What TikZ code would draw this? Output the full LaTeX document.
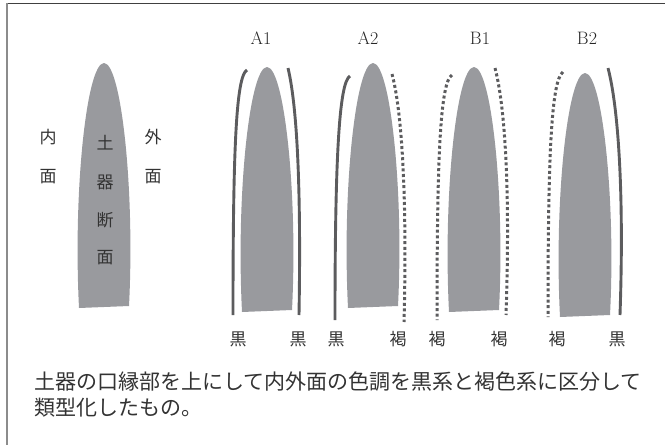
\documentclass[tikz,border=0pt]{standalone}
\usepackage{fontspec}
\newfontfamily\jpfont{Noto Sans CJK JP}
\definecolor{sherdgray}{RGB}{153,154,158}
\definecolor{slipdark}{RGB}{92,92,94}

% one cut-away rim sherd: centre x, tip y, base y
\newcommand{\sherdcut}[3]{%
  \fill[sherd] (#1-25,#3+1) .. controls (#1-31,#2+125) and (#1-17,#2) .. (#1,#2)
    .. controls (#1+17,#2) and (#1+31,#2+125) .. (#1+25,#3-1) -- cycle;}

\begin{document}
\begin{tikzpicture}[x=1pt,y=-1pt,
    sherd/.style={fill=sherdgray},
    kuro/.style={draw=slipdark, line width=2.9pt},
    kasshoku/.style={draw=slipdark, line width=3pt, dash pattern=on 3pt off 2.6pt},
    lbl/.style={font=\jpfont\fontsize{17}{17}\selectfont, text=black!80, inner sep=0pt},
    ttl/.style={font=\fontsize{18}{18}\selectfont, text=black!85, inner sep=0pt}]

  \useasboundingbox (0,0) rectangle (665,445);

  % frame
  \draw[black!75, line width=1.6pt] (6,3.5) -- (665,3.5);
  \draw[black!45, line width=1.6pt] (7,3) -- (7,445);

  % key sherd
  \sherdcut{104}{63}{307}
  \node[lbl] (in1) at (48,137) {内};
  \node[lbl] (in2) at (48,177) {面};
  \node[lbl] (out1) at (153,137) {外};
  \node[lbl] (out2) at (153,177) {面};
  \node[lbl] (s1) at (105,143) {土};
  \node[lbl] (s2) at (105,182) {器};
  \node[lbl] (s3) at (105,220) {断};
  \node[lbl] (s4) at (105,258) {面};

  % types
  \node[ttl] (A1) at (261,38) {A1};
  \node[ttl] (A2) at (368,38) {A2};
  \node[ttl] (B1) at (480,38) {B1};
  \node[ttl] (B2) at (587,38) {B2};

  \sherdcut{267}{67}{311}
  \sherdcut{373}{63}{307}
  \sherdcut{474}{67}{311}
  \sherdcut{585}{73}{316}

  \draw[kuro] (247,70) .. controls (236,76) and (233,150) .. (233,315);
  \draw[kuro] (288,68) .. controls (298,110) and (301,200) .. (299,315);

  \draw[kuro] (350,76) .. controls (339,82) and (335,160) .. (335,320);
  \draw[kasshoku] (392,74) .. controls (403,115) and (407,210) .. (404,322);

  \draw[kasshoku] (452,75) .. controls (440,82) and (437,160) .. (437,320);
  \draw[kasshoku] (495,68) .. controls (506,110) and (510,200) .. (506,315);

  \draw[kasshoku] (563,72) .. controls (551,80) and (548,160) .. (548,317);
  \draw[kuro] (608,68) .. controls (619,110) and (624,200) .. (620,315);

  \node[lbl] (a1l) at (238,339) {黒};
  \node[lbl] (a1r) at (298,339) {黒};
  \node[lbl] (a2l) at (336,339) {黒};
  \node[lbl] (a2r) at (398,339) {褐};
  \node[lbl] (b1l) at (437,339) {褐};
  \node[lbl] (b1r) at (499,339) {褐};
  \node[lbl] (b2l) at (557,339) {褐};
  \node[lbl] (b2r) at (617,339) {黒};

  \node[lbl, font=\jpfont\fontsize{21}{25.5}\selectfont, anchor=west, align=left] (caption) at (34,394.5)
    {土器の口縁部を上にして内外面の色調を黒系と褐色系に区分して\\類型化したもの。};

\end{tikzpicture}
\end{document}
